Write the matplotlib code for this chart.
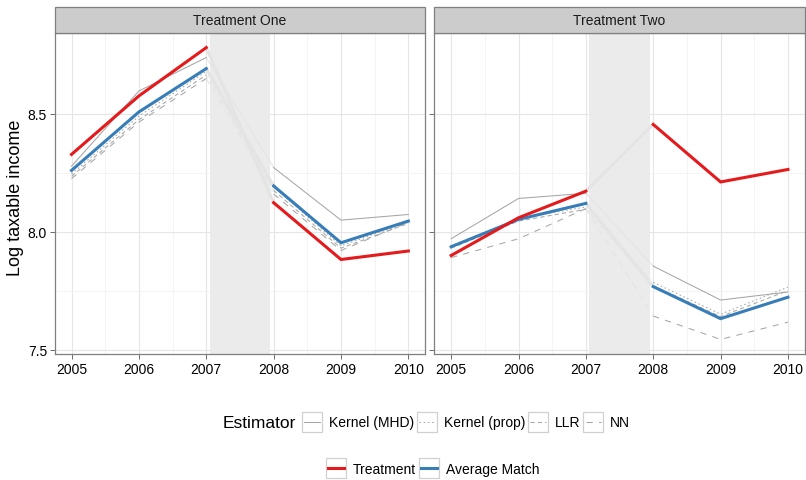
import numpy as np
import matplotlib
matplotlib.use('Agg')
import matplotlib.pyplot as plt
from matplotlib.lines import Line2D
from matplotlib.patches import Rectangle
from matplotlib.legend_handler import HandlerLine2D

plt.rcParams['font.family'] = ['Liberation Sans', 'DejaVu Sans']

# ── dados ─────────────────────────────────────────────────
years = [2005, 2006, 2007, 2008, 2009, 2010]
panels = ['Treatment One', 'Treatment Two']
estimators = ['Kernel (MHD)', 'Kernel (prop)', 'LLR', 'NN']

one_kernel_mhd  = [8.278, 8.597, 8.739, 8.272, 8.049, 8.073]
one_kernel_prop = [8.245, 8.490, 8.680, 8.190, 7.940, 8.040]
one_llr         = [8.235, 8.475, 8.665, 8.175, 7.930, 8.035]
one_nn          = [8.225, 8.465, 8.650, 8.160, 7.920, 8.040]
one_treatment   = [8.328, 8.576, 8.781, 8.123, 7.882, 7.918]
one_avg_match   = [8.260, 8.508, 8.692, 8.194, 7.953, 8.045]

two_kernel_mhd  = [7.970, 8.141, 8.163, 7.854, 7.710, 7.744]
two_kernel_prop = [7.940, 8.055, 8.105, 7.785, 7.650, 7.765]
two_llr         = [7.930, 8.045, 8.095, 7.770, 7.640, 7.750]
two_nn          = [7.890, 7.970, 8.098, 7.642, 7.543, 7.616]
two_treatment   = [7.899, 8.059, 8.172, 8.455, 8.211, 8.264]
two_avg_match   = [7.936, 8.052, 8.120, 7.767, 7.631, 7.722]

y_ticks = [7.5, 8.0, 8.5]
y_ticklabels = ['7.5', '8.0', '8.5']

# ── estilos ──────────────────────────────────────────────
GREY = '#a6a6a6'
BRIDGE = '#e4e4e4'
EST_STYLE = {
    'Kernel (MHD)':  dict(color=GREY, lw=0.75, ls='-'),
    'Kernel (prop)': dict(color=GREY, lw=0.75, ls=(0, (1.5, 2.5))),
    'LLR':           dict(color=GREY, lw=0.75, ls=(0, (4, 3))),
    'NN':            dict(color=GREY, lw=0.75, ls=(0, (6, 6))),
}
RED = '#e41a1c'
BLUE = '#377eb8'

data = {
    'Treatment One': ([one_kernel_mhd, one_kernel_prop, one_llr, one_nn],
                      one_treatment, one_avg_match),
    'Treatment Two': ([two_kernel_mhd, two_kernel_prop, two_llr, two_nn],
                      two_treatment, two_avg_match),
}

W, H = 806, 481
fig = plt.figure(figsize=(W / 100, H / 100), dpi=100)
fig.patch.set_facecolor('white')

ax_left = [54.7, 434.3]
ax_w = 370.5
ax_top, ax_bot = 34, 355
strip_top = 7.5

x = np.array(years)
pre = x <= 2007
post = x >= 2008
bridge = (x == 2007) | (x == 2008)


def draw_series(ax, vals, color, lw, ls, z):
    v = np.array(vals)
    ax.plot(x[pre], v[pre], color=color, lw=lw, ls=ls, zorder=z,
            solid_joinstyle='miter')
    ax.plot(x[post], v[post], color=color, lw=lw, ls=ls, zorder=z,
            solid_joinstyle='miter')
    ax.plot(x[bridge], v[bridge], color=BRIDGE, lw=lw, ls=ls, zorder=2.5)


for i, name in enumerate(panels):
    l = ax_left[i]
    ax = fig.add_axes([l / W, 1 - ax_bot / H, ax_w / W, (ax_bot - ax_top) / H])
    est_vals, treat, avg = data[name]

    ax.axvspan(2007.05, 2007.95, color='#ebebeb', zorder=1, lw=0)
    for est, vals in zip(estimators, est_vals):
        draw_series(ax, vals, z=3, **EST_STYLE[est])
    draw_series(ax, avg, BLUE, 2.2, '-', 4)
    draw_series(ax, treat, RED, 2.2, '-', 5)

    ax.set_xlim(2004.75, 2010.25)
    ax.set_ylim(7.481, 8.843)
    ax.set_xticks(years)
    ax.set_xticklabels([str(y) for y in years], fontsize=10, color='black')
    ax.set_xticks([2005.5, 2006.5, 2007.5, 2008.5, 2009.5], minor=True)
    ax.set_yticks(y_ticks)
    ax.set_yticks([7.75, 8.25], minor=True)
    if i == 0:
        ax.set_yticklabels(y_ticklabels, fontsize=10, color='black')
        ax.set_ylabel('Log taxable income', fontsize=13)
        ax.yaxis.set_label_coords((23.5 - 54.7) / ax_w, 0.49)
    else:
        ax.set_yticklabels([])
        ax.tick_params(axis='y', length=0)
    ax.tick_params(which='major', length=3.5, width=0.6, color='#555555', pad=2)
    ax.tick_params(which='minor', length=0)
    ax.grid(True, which='major', color='#e6e6e6', lw=0.8, zorder=0)
    ax.grid(True, which='minor', color='#f2f2f2', lw=0.6, zorder=0)
    ax.set_axisbelow(True)
    for s in ax.spines.values():
        s.set_color('#7f7f7f')
        s.set_linewidth(0.9)

    # faixa do título do painel
    fig.patches.append(Rectangle((l / W, 1 - ax_top / H), ax_w / W,
                                 (ax_top - strip_top) / H,
                                 transform=fig.transFigure, fc='#cccccc',
                                 ec='#7f7f7f', lw=0.9))
    fig.text((l + ax_w / 2) / W, 1 - (ax_top + strip_top) / 2 / H, name,
             ha='center', va='center', fontsize=10, color='#1a1a1a')


# ── legendas ─────────────────────────────────────────────
class BoxedLine(HandlerLine2D):
    def create_artists(self, legend, orig_handle, xdescent, ydescent,
                       width, height, fontsize, trans):
        arts = super().create_artists(legend, orig_handle, xdescent, ydescent,
                                      width, height, fontsize, trans)
        yc = height / 2 - ydescent
        side = width
        box = Rectangle((-xdescent, yc - side / 2), side, side,
                        fc='white', ec='#d0d0d0', lw=0.9, transform=trans)
        for a in arts:
            if isinstance(a, Line2D) and a.get_linestyle() != 'None':
                a.set_data([-xdescent + 1.6, -xdescent + width - 1.6],
                           [yc, yc])
        return [box] + list(arts)


LEG_KW = dict(frameon=False, fontsize=10, handlelength=1.45,
              handletextpad=0.5, columnspacing=0.2, borderpad=0,
              borderaxespad=0, handler_map={Line2D: BoxedLine()})

est_handles = [Line2D([0], [0], **EST_STYLE[e]) for e in estimators]
fig.legend(est_handles, estimators, loc='center left',
           bbox_to_anchor=(301.7 / W, 1 - 423.5 / H), ncol=4, **LEG_KW)
fig.text(296 / W, 1 - 423.5 / H, 'Estimator', ha='right', va='center',
         fontsize=12.5)

main_handles = [Line2D([0], [0], color=RED, lw=2.2),
                Line2D([0], [0], color=BLUE, lw=2.2)]
fig.legend(main_handles, ['Treatment', 'Average Match'], loc='center left',
           bbox_to_anchor=(325.7 / W, 1 - 470 / H), ncol=2, **LEG_KW)

fig.savefig('out.png', dpi=100)
